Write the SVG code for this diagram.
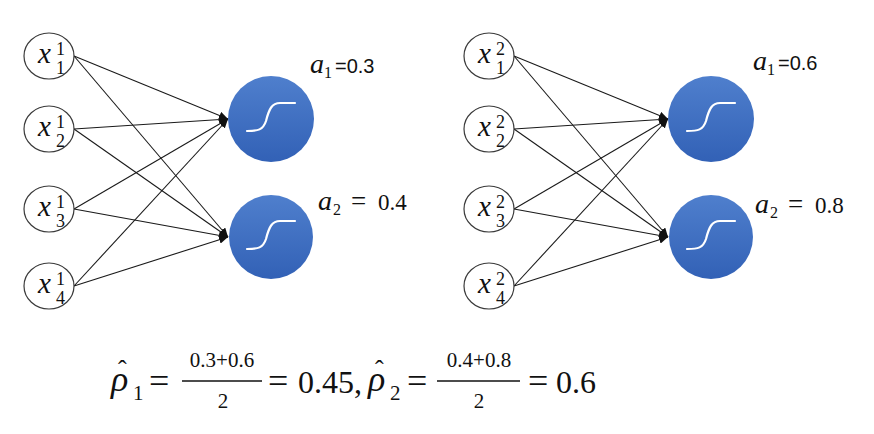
<svg xmlns="http://www.w3.org/2000/svg" width="874" height="434" viewBox="0 0 874 434">
<style>
.in{fill:#fff;stroke:#3a3a3a;stroke-width:1.2}
.bl{fill:url(#bg)}
.sig{fill:none;stroke:#fff;stroke-width:2.2;stroke-linecap:round}
.var{font-family:"Liberation Serif",serif;font-style:italic;fill:#111}
.num{font-family:"Liberation Serif",serif;fill:#111}
.sans{font-family:"Liberation Sans",sans-serif;fill:#111}
.cn{fill:none;stroke:#1a1a1a;stroke-width:1.1;marker-end:url(#ah)}
.xv{font-size:29px}
.sc{font-size:18px}
</style>
<defs>
<linearGradient id="bg" x1="0" y1="0" x2="0" y2="1">
<stop offset="0" stop-color="#4f7fcd"/>
<stop offset="1" stop-color="#3261b6"/>
</linearGradient>
<marker id="ah" markerUnits="userSpaceOnUse" markerWidth="10" markerHeight="8" refX="9" refY="4" orient="auto">
<path d="M0,0 L9,4 L0,8 z" fill="#111"/>
</marker>
<path id="sg" d="M-24,12 C-13,12 -8,11 -5,2 C-2,-10 1,-16 9,-16 L24,-16"/>
</defs>
<rect width="874" height="434" fill="#fff"/>

<g id="connectors">
<path class="cn" d="M74,56 L228,119"/>
<path class="cn" d="M74,129 L228,119"/>
<path class="cn" d="M74,209 L228,119"/>
<path class="cn" d="M74,286 L228,119"/>
<path class="cn" d="M74,56 L228,237"/>
<path class="cn" d="M74,129 L228,237"/>
<path class="cn" d="M74,209 L228,237"/>
<path class="cn" d="M74,286 L228,237"/>
<path class="cn" d="M514,56 L668,119"/>
<path class="cn" d="M514,129 L668,119"/>
<path class="cn" d="M514,209 L668,119"/>
<path class="cn" d="M514,286 L668,119"/>
<path class="cn" d="M514,56 L668,237"/>
<path class="cn" d="M514,129 L668,237"/>
<path class="cn" d="M514,209 L668,237"/>
<path class="cn" d="M514,286 L668,237"/>
</g>

<g id="x1_1"><ellipse class="in" cx="49" cy="56" rx="25" ry="23"/><text class="var xv" x="38" y="63">x</text><text class="num sc" x="56" y="55">1</text><text class="num sc" x="56" y="74">1</text></g>
<g id="x1_2"><ellipse class="in" cx="49" cy="129" rx="25" ry="23"/><text class="var xv" x="38" y="136">x</text><text class="num sc" x="56" y="128">1</text><text class="num sc" x="56" y="147">2</text></g>
<g id="x1_3"><ellipse class="in" cx="49" cy="209" rx="25" ry="23"/><text class="var xv" x="38" y="216">x</text><text class="num sc" x="56" y="208">1</text><text class="num sc" x="56" y="227">3</text></g>
<g id="x1_4"><ellipse class="in" cx="49" cy="286" rx="25" ry="23"/><text class="var xv" x="38" y="293">x</text><text class="num sc" x="56" y="285">1</text><text class="num sc" x="56" y="304">4</text></g>

<g id="x2_1"><ellipse class="in" cx="489" cy="56" rx="25" ry="23"/><text class="var xv" x="478" y="63">x</text><text class="num sc" x="496" y="55">2</text><text class="num sc" x="496" y="74">1</text></g>
<g id="x2_2"><ellipse class="in" cx="489" cy="129" rx="25" ry="23"/><text class="var xv" x="478" y="136">x</text><text class="num sc" x="496" y="128">2</text><text class="num sc" x="496" y="147">2</text></g>
<g id="x2_3"><ellipse class="in" cx="489" cy="209" rx="25" ry="23"/><text class="var xv" x="478" y="216">x</text><text class="num sc" x="496" y="208">2</text><text class="num sc" x="496" y="227">3</text></g>
<g id="x2_4"><ellipse class="in" cx="489" cy="286" rx="25" ry="23"/><text class="var xv" x="478" y="293">x</text><text class="num sc" x="496" y="285">2</text><text class="num sc" x="496" y="304">4</text></g>

<g id="h1_1"><circle class="bl" cx="271" cy="119" r="43"/><use href="#sg" class="sig" x="271" y="119"/></g>
<g id="h1_2"><circle class="bl" cx="271" cy="237" r="42"/><use href="#sg" class="sig" x="271" y="237"/></g>
<g id="h2_1"><circle class="bl" cx="711" cy="119" r="43"/><use href="#sg" class="sig" x="711" y="119"/></g>
<g id="h2_2"><circle class="bl" cx="711" cy="237" r="42"/><use href="#sg" class="sig" x="711" y="237"/></g>

<g id="labels">
<text class="var" x="310" y="73" font-size="28">a</text><text class="num" x="324" y="78" font-size="16">1</text><text class="sans" x="335" y="73" font-size="20">=0.3</text>
<text class="var" x="318" y="210" font-size="28">a</text><text class="num" x="333" y="215" font-size="16">2</text><text class="num" x="351" y="210" font-size="27">=</text><text class="num" x="378" y="210" font-size="23">0.4</text>
<text class="var" x="753" y="70" font-size="28">a</text><text class="num" x="767" y="75" font-size="16">1</text><text class="sans" x="778" y="70" font-size="20">=0.6</text>
<text class="var" x="755" y="213" font-size="28">a</text><text class="num" x="770" y="218" font-size="16">2</text><text class="num" x="788" y="213" font-size="27">=</text><text class="num" x="815" y="213" font-size="23">0.8</text>
</g>

<g id="formula">
<text class="num" x="118" y="378" font-size="26">ˆ</text><text class="var" x="111" y="391" font-size="36">ρ</text><text class="num" x="133" y="400" font-size="21">1</text>
<text class="num" x="149" y="393" font-size="36">=</text>
<text class="num" x="222" y="367" font-size="21" text-anchor="middle">0.3+0.6</text>
<line x1="182" y1="381" x2="262" y2="381" stroke="#111" stroke-width="1.3"/>
<text class="num" x="223" y="408" font-size="21" text-anchor="middle">2</text>
<text class="num" x="268" y="393" font-size="36">=</text>
<text class="num" x="298" y="393" font-size="32">0.45,</text>
<text class="num" x="375" y="378" font-size="26">ˆ</text><text class="var" x="368" y="391" font-size="36">ρ</text><text class="num" x="390" y="400" font-size="21">2</text>
<text class="num" x="407" y="393" font-size="36">=</text>
<text class="num" x="479" y="367" font-size="21" text-anchor="middle">0.4+0.8</text>
<line x1="437" y1="381" x2="520" y2="381" stroke="#111" stroke-width="1.3"/>
<text class="num" x="479" y="408" font-size="21" text-anchor="middle">2</text>
<text class="num" x="528" y="393" font-size="36">=</text>
<text class="num" x="556" y="393" font-size="32">0.6</text>
</g>
</svg>
